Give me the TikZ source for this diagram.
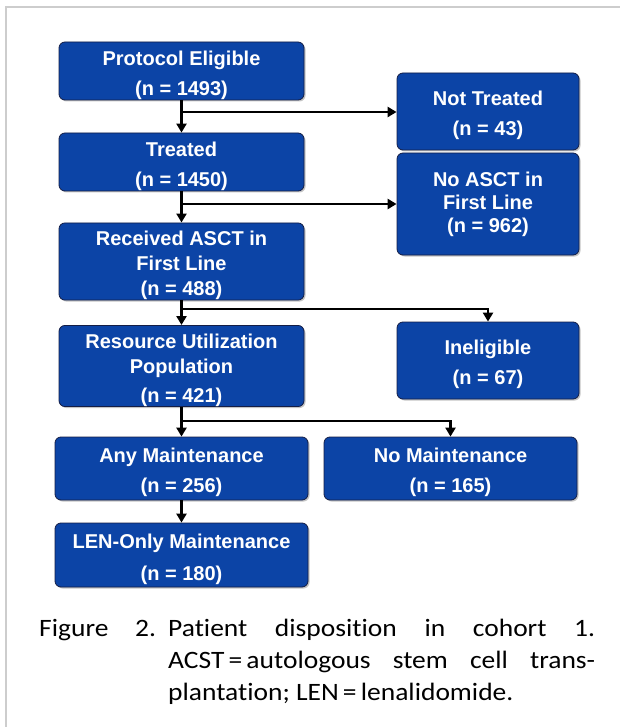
\documentclass[tikz,border=0pt]{standalone}
\usepackage{fontspec}
\setmainfont{Liberation Sans}
\newfontfamily\capfont[Ligatures=NoCommon, FakeStretch=1.1]{Carlito}
\usepackage{tikz}
\usetikzlibrary{arrows.meta,positioning,calc,shadows}

\definecolor{boxblue}{RGB}{12,68,166}
\definecolor{boxedge}{RGB}{20,30,70}
\definecolor{framegray}{RGB}{205,205,205}

% taller first line, pushes the text a little lower in its box
\newcommand{\boxtop}{\rule{0pt}{23pt}}

\tikzset{
  flowbox/.style={draw=boxedge, line width=0.8pt, fill=boxblue, rounded corners=6pt,
    text=white, align=center, inner sep=0pt,
    font=\fontsize{20}{25}\selectfont\bfseries,
    drop shadow={shadow xshift=1.5pt, shadow yshift=-1.5pt, opacity=0.45}},
  leftbox/.style={flowbox, minimum width=245pt},
  sidebox/.style={flowbox, minimum width=182pt},
  widebox/.style={flowbox, minimum width=253pt},
  flowarrow/.style={line width=2.8pt, -{Triangle[length=9pt,width=10pt]}},
  captionfont/.style={font=\capfont\fontsize{25}{32}\selectfont}
}

\begin{document}
\begin{tikzpicture}[x=1pt,y=-1pt]
		\useasboundingbox (0,0) rectangle (620,727);
		\fill[white] (0,0) rectangle (620,727);
		% frame
		\draw[framegray, line width=2pt] (6,727) -- (6,7) -- (620,7);

		% left column
		\node[leftbox, minimum height=58pt] (eligible) at (181.5,71) {\boxtop Protocol Eligible\\[5pt](n = 1493)};
		\node[leftbox, minimum height=58pt] (treated) at (181.5,162) {\boxtop Treated\\[5pt](n = 1450)};
		\node[leftbox, minimum height=75pt] (received) at (181.5,261.5) {\boxtop Received ASCT in\\First Line\\(n = 488)};
		\node[leftbox, minimum height=76pt] (resource) at (181.5,366) {\boxtop Resource Utilization\\Population\\[4pt](n = 421)};
		\node[widebox, minimum height=63pt] (anymaint) at (181.5,468.5) {\boxtop Any Maintenance\\[5pt](n = 256)};
		\node[widebox, minimum height=64pt] (lenonly) at (181.5,555) {\boxtop LEN-Only Maintenance\\[7pt](n = 180)};

		% right column
		\node[sidebox, minimum height=77pt] (nottreated) at (488,111.5) {\boxtop Not Treated\\[5pt](n = 43)};
		\node[sidebox, minimum height=102pt] (noasct) at (488,204) {No ASCT in\\[-2pt]First Line\\[-2pt](n = 962)};
		\node[sidebox, minimum height=77pt] (ineligible) at (488,360.5) {\boxtop Ineligible\\[5pt](n = 67)};
		\node[widebox, minimum height=63pt] (nomaint) at (450.5,468.5) {\boxtop No Maintenance\\[5pt](n = 165)};

		% branch points
		\coordinate (split1) at (181.5,112);
		\coordinate (split2) at (181.5,204);
		\coordinate (split3) at (181.5,309);
		\coordinate (split4) at (181.5,421);

		\draw[flowarrow] (eligible) -- (treated);
		\draw[flowarrow] (split1) -- (split1 -| nottreated.west);
		\draw[flowarrow] (treated) -- (received);
		\draw[flowarrow] (split2) -- (split2 -| noasct.west);
		\draw[flowarrow] (received) -- (resource);
		\draw[flowarrow] (split3) -| (ineligible.north);
		\draw[flowarrow] (resource) -- (anymaint);
		\draw[flowarrow] (split4) -| (nomaint.north);
		\draw[flowarrow] (anymaint) -- (lenonly);

		% caption
		\node[captionfont, anchor=base west, inner sep=0pt] (figword) at (39,636) {Figure};
		\node[captionfont, anchor=base west, inner sep=0pt] (fignum) at (135,636) {2.};
		\node[captionfont, anchor=north west, inner sep=0pt, text width=427pt, align=justify] (captext) at (168,619)
		  {Patient disposition in cohort 1.\linebreak ACST\,=\,autologous stem cell trans-\linebreak plantation; LEN\,=\,lenalidomide.};
\end{tikzpicture}
\end{document}
